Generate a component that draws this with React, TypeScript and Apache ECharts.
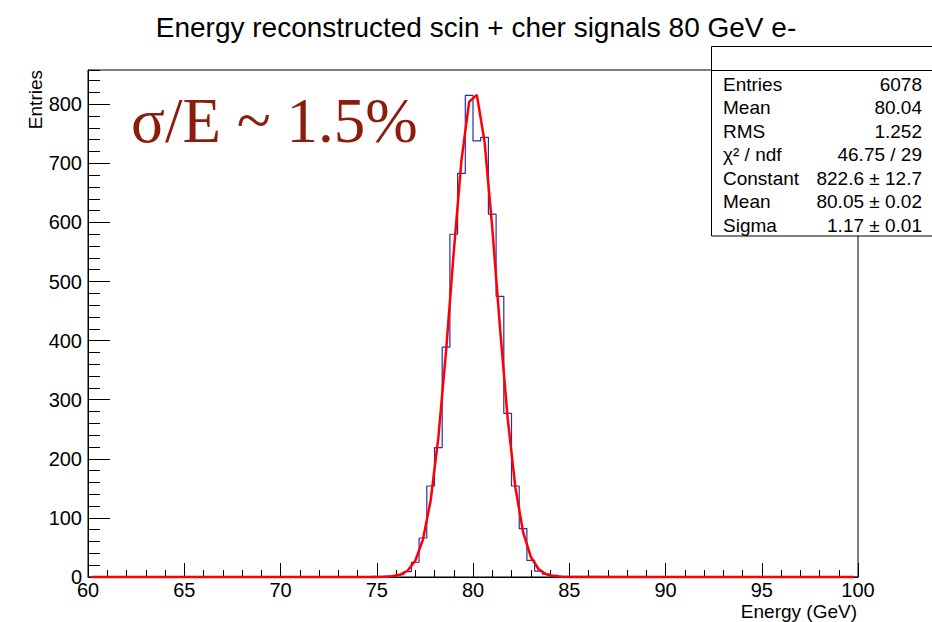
import React, { useEffect, useRef } from "react";
import * as echarts from "echarts";

// ---------- texts ----------
const TITLE = "Energy reconstructed scin + cher signals 80 GeV e-";
const X_NAME = "Energy (GeV)";
const Y_NAME = "Entries";
const RESOLUTION_TEXT = "σ/E ~ 1.5%";

// ---------- axes ----------
const X_MIN = 60;
const X_MAX = 100;
const X_MAJOR = 5;
const Y_MIN = 0;
const Y_MAX = 858;
const Y_MAJOR = 100;
const Y_MINOR = 20;

// ---------- histogram (bin width 0.4 GeV, 100 bins over 60-100) ----------
const BIN_WIDTH = 0.4;
const binLowEdges = [
  74.4, 74.8, 75.2, 75.6, 76.0, 76.4, 76.8, 77.2, 77.6, 78.0, 78.4, 78.8, 79.2,
  79.6, 80.0, 80.4, 80.8, 81.2, 81.6, 82.0, 82.4, 82.8, 83.2, 83.6, 84.0, 84.4,
];
const binCounts = [
  1, 1, 1, 2, 4, 9, 25, 66, 154, 219, 389, 580, 683,
  815, 738, 744, 614, 475, 277, 154, 82, 28, 10, 5, 3, 1,
];

// ---------- gaussian fit curve, read at bin centres ----------
const fitX = [
  60.2, 75.0, 75.4, 75.8, 76.2, 76.6, 77.0, 77.4, 77.8, 78.2, 78.6, 79.0, 79.4,
  79.8, 80.2, 80.6, 81.0, 81.4, 81.8, 82.2, 82.6, 83.0, 83.4, 83.8, 84.2, 84.6,
  85.0, 99.8,
];
const fitY = [
  0, 0, 0.3, 1.1, 3.7, 10.6, 27.5, 63.3, 129.5, 235.7, 381.7, 549.9, 705.0,
  804.0, 815.9, 736.6, 591.6, 422.8, 268.8, 152.0, 76.5, 34.3, 13.6, 4.8, 1.5, 0.4,
  0.1, 0,
];

// ---------- stats box ----------
const statLabels = ["Entries", "Mean", "RMS", "χ² / ndf", "Constant", "Mean", "Sigma"];
const statValues = [
  "6078",
  "80.04",
  "1.252",
  "46.75 / 29",
  "822.6 ± 12.7",
  "80.05 ± 0.02",
  "1.17 ± 0.01",
];

const SANS = "'Liberation Sans', Arial, Helvetica, sans-serif";
const SERIF = "'Liberation Serif', 'Times New Roman', serif";

function buildHistPoints(): number[][] {
  const pts: number[][] = [[X_MIN, 0], [binLowEdges[0], 0]];
  binLowEdges.forEach((lo, i) => {
    const hi = Math.round((lo + BIN_WIDTH) * 10) / 10;
    pts.push([lo, binCounts[i]]);
    pts.push([hi, binCounts[i]]);
  });
  const lastHi =
    Math.round((binLowEdges[binLowEdges.length - 1] + BIN_WIDTH) * 10) / 10;
  pts.push([lastHi, 0]);
  pts.push([X_MAX, 0]);
  return pts;
}

export default function App() {
  const ref = useRef<HTMLDivElement>(null);

  useEffect(() => {
    if (!ref.current) return;
    const chart = echarts.init(ref.current, undefined, { renderer: "svg" });

    const histPoints = buildHistPoints();
    const fitPoints = fitX.map((x, i) => [x, fitY[i]]);

    const statsLeft = 711.5;
    const statsTop = 46.5;
    const rowY0 = 84;
    const rowStep = 23.5;

    const graphics: any[] = [
      {
        type: "text",
        x: 476,
        y: 27,
        z: 100,
        style: {
          text: TITLE,
          fontSize: 28,
          fontFamily: SANS,
          fill: "#000",
          align: "center",
          verticalAlign: "middle",
        },
      },
      {
        type: "text",
        x: 131,
        y: 121,
        z: 100,
        style: {
          text: RESOLUTION_TEXT,
          fontSize: 63,
          fontFamily: SERIF,
          fill: "#8c1c0c",
          align: "left",
          verticalAlign: "middle",
        },
      },
      {
        type: "text",
        x: 35,
        y: 70,
        rotation: Math.PI / 2,
        z: 100,
        style: {
          text: Y_NAME,
          fontSize: 19,
          fontFamily: SANS,
          fill: "#000",
          align: "right",
          verticalAlign: "middle",
        },
      },
      {
        type: "text",
        x: 857,
        y: 611,
        z: 100,
        style: {
          text: X_NAME,
          fontSize: 19,
          fontFamily: SANS,
          fill: "#000",
          align: "right",
          verticalAlign: "middle",
        },
      },
      {
        type: "rect",
        z: 100,
        shape: { x: statsLeft, y: statsTop, width: 240, height: 189.5 },
        style: { fill: "#fff", stroke: "#000", lineWidth: 1 },
      },
      {
        type: "line",
        z: 101,
        shape: { x1: statsLeft, y1: 70.5, x2: 940, y2: 70.5 },
        style: { stroke: "#000", lineWidth: 1 },
      },
    ];

    statLabels.forEach((label, i) => {
      graphics.push({
        type: "text",
        x: 723,
        y: rowY0 + i * rowStep,
        z: 102,
        style: {
          text: label,
          fontSize: 19,
          fontFamily: SANS,
          fill: "#000",
          align: "left",
          verticalAlign: "middle",
        },
      });
      graphics.push({
        type: "text",
        x: 922,
        y: rowY0 + i * rowStep,
        z: 102,
        style: {
          text: statValues[i],
          fontSize: 19,
          fontFamily: SANS,
          fill: "#000",
          align: "right",
          verticalAlign: "middle",
        },
      });
    });

    const option: any = {
      animation: false,
      backgroundColor: "#fff",
      grid: {
        left: 88,
        right: 74,
        top: 70,
        bottom: 45,
        show: true,
        borderColor: "#000",
        borderWidth: 1,
        backgroundColor: "transparent",
      },
      xAxis: [
        {
          type: "value",
          position: "bottom",
          min: X_MIN,
          max: X_MAX,
          interval: X_MAJOR,
          axisLine: { show: true, lineStyle: { color: "#000", width: 1 } },
          axisTick: {
            show: true,
            inside: true,
            length: 14,
            lineStyle: { color: "#000", width: 1 },
          },
          minorTick: {
            show: true,
            splitNumber: 5,
            length: 7,
            lineStyle: { color: "#000", width: 1 },
          },
          splitLine: { show: false },
          minorSplitLine: { show: false },
          axisLabel: {
            show: true,
            margin: 3,
            fontSize: 20,
            fontFamily: SANS,
            color: "#000",
          },
        },
      ],
      yAxis: [
        {
          type: "value",
          position: "left",
          min: Y_MIN,
          max: Y_MAX,
          interval: Y_MAJOR,
          axisLine: { show: true, lineStyle: { color: "#000", width: 1 } },
          axisTick: {
            show: true,
            inside: true,
            length: 22,
            lineStyle: { color: "#000", width: 1 },
          },
          splitLine: { show: false },
          axisLabel: {
            show: true,
            margin: 6,
            fontSize: 20,
            fontFamily: SANS,
            color: "#000",
            showMaxLabel: false,
            formatter: (v: number) => (v % Y_MAJOR === 0 ? String(v) : ""),
          },
        },
        {
          type: "value",
          position: "left",
          min: Y_MIN,
          max: Y_MAX,
          interval: Y_MINOR,
          axisLine: { show: false },
          axisTick: {
            show: true,
            inside: true,
            length: 12,
            lineStyle: { color: "#000", width: 1 },
          },
          splitLine: { show: false },
          axisLabel: { show: false },
        },
      ],
      series: [
        {
          type: "line",
          name: "histogram",
          xAxisIndex: 0,
          yAxisIndex: 0,
          data: histPoints,
          showSymbol: false,
          symbol: "none",
          lineStyle: { color: "#2b2bb0", width: 1.2 },
          z: 3,
        },
        {
          type: "line",
          name: "fit",
          xAxisIndex: 0,
          yAxisIndex: 0,
          data: fitPoints,
          showSymbol: false,
          symbol: "none",
          clip: false,
          lineStyle: { color: "#ff0000", width: 2.5 },
          z: 4,
        },
      ],
      graphic: graphics,
    };

    chart.setOption(option);
    return () => {
      chart.dispose();
    };
  }, []);

  return (
    <div
      ref={ref}
      style={{
        position: "fixed",
        left: 0,
        top: 0,
        width: 932,
        height: 622,
        background: "#fff",
      }}
    />
  );
}
